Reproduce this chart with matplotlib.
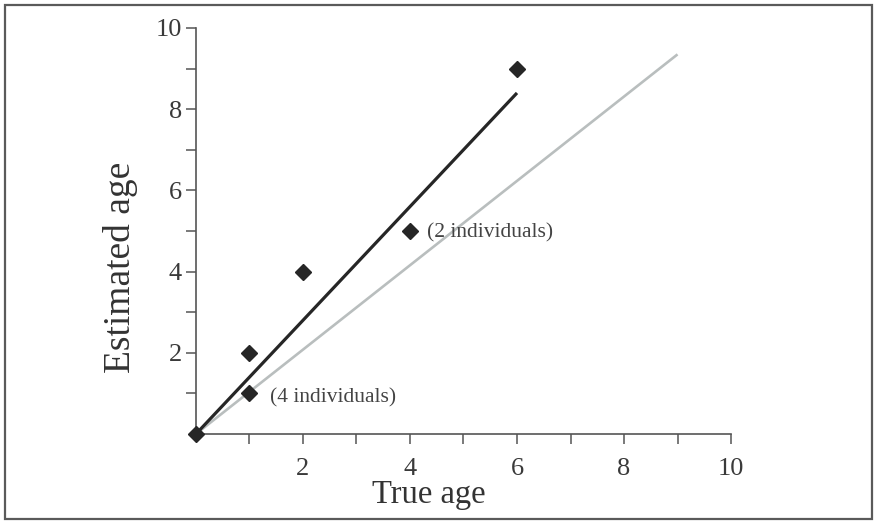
import matplotlib.pyplot as plt
from matplotlib.patches import Rectangle

# observed points (true age, estimated age)
true_age = [0, 1, 1, 2, 4, 6]
est_age = [0, 2, 1, 4, 5, 9]

# fitted line (black) and reference line (grey)
fit_x = [0, 6]
fit_y = [0, 8.4]
ref_x = [0, 9]
ref_y = [0, 9.35]

notes = [(1.38, 0.9, '(4 individuals)'), (4.32, 4.95, '(2 individuals)')]

plt.rcParams['font.family'] = ['Liberation Serif', 'DejaVu Serif']

fig = plt.figure(figsize=(8.76, 5.22), dpi=100)
ax = fig.add_axes([0.2237, 0.1686, 0.6108, 0.7778])

ax.plot(ref_x, ref_y, color='#b9bebe', lw=1.9, solid_capstyle='butt')
ax.plot(fit_x, fit_y, color='#262626', lw=2.3, solid_capstyle='butt')
ax.plot(true_age, est_age, 'D', color='#262626', markersize=8.5, clip_on=False, zorder=5)

for x, y, s in notes:
    ax.text(x, y, s, fontsize=15.5, color='#444444', va='center', ha='left')

ax.set_xlim(0, 10)
ax.set_ylim(0, 10)
ax.set_xticks(range(1, 11))
ax.set_yticks(range(1, 11))
ax.set_xticklabels(['' if i % 2 else str(i) for i in range(1, 11)])
ax.set_yticklabels(['' if i % 2 else str(i) for i in range(1, 11)])
ax.tick_params(direction='out', length=7, width=1.1, color='#555555',
               labelsize=19, labelcolor='#3a3a3a')
ax.tick_params(axis='x', pad=10)
ax.tick_params(axis='y', pad=3)

for side in ['top', 'right']:
    ax.spines[side].set_visible(False)
for side in ['left', 'bottom']:
    ax.spines[side].set_color('#555555')
    ax.spines[side].set_linewidth(1.2)

# axis titles placed as in the original
fig.text(0.489, 0.0364, 'True age', fontsize=23.5, color='#333333',
         ha='center', va='baseline')
fig.text(0.137, 0.4885, 'Estimated age', fontsize=27, color='#333333',
         ha='center', va='center', rotation=90)

# frame round the whole picture
fig.patches.append(Rectangle((0.006, 0.006), 0.989, 0.985, transform=fig.transFigure,
                             fill=False, edgecolor='#5a5a5a', lw=1.6))

fig.savefig('out.png', dpi=100)
